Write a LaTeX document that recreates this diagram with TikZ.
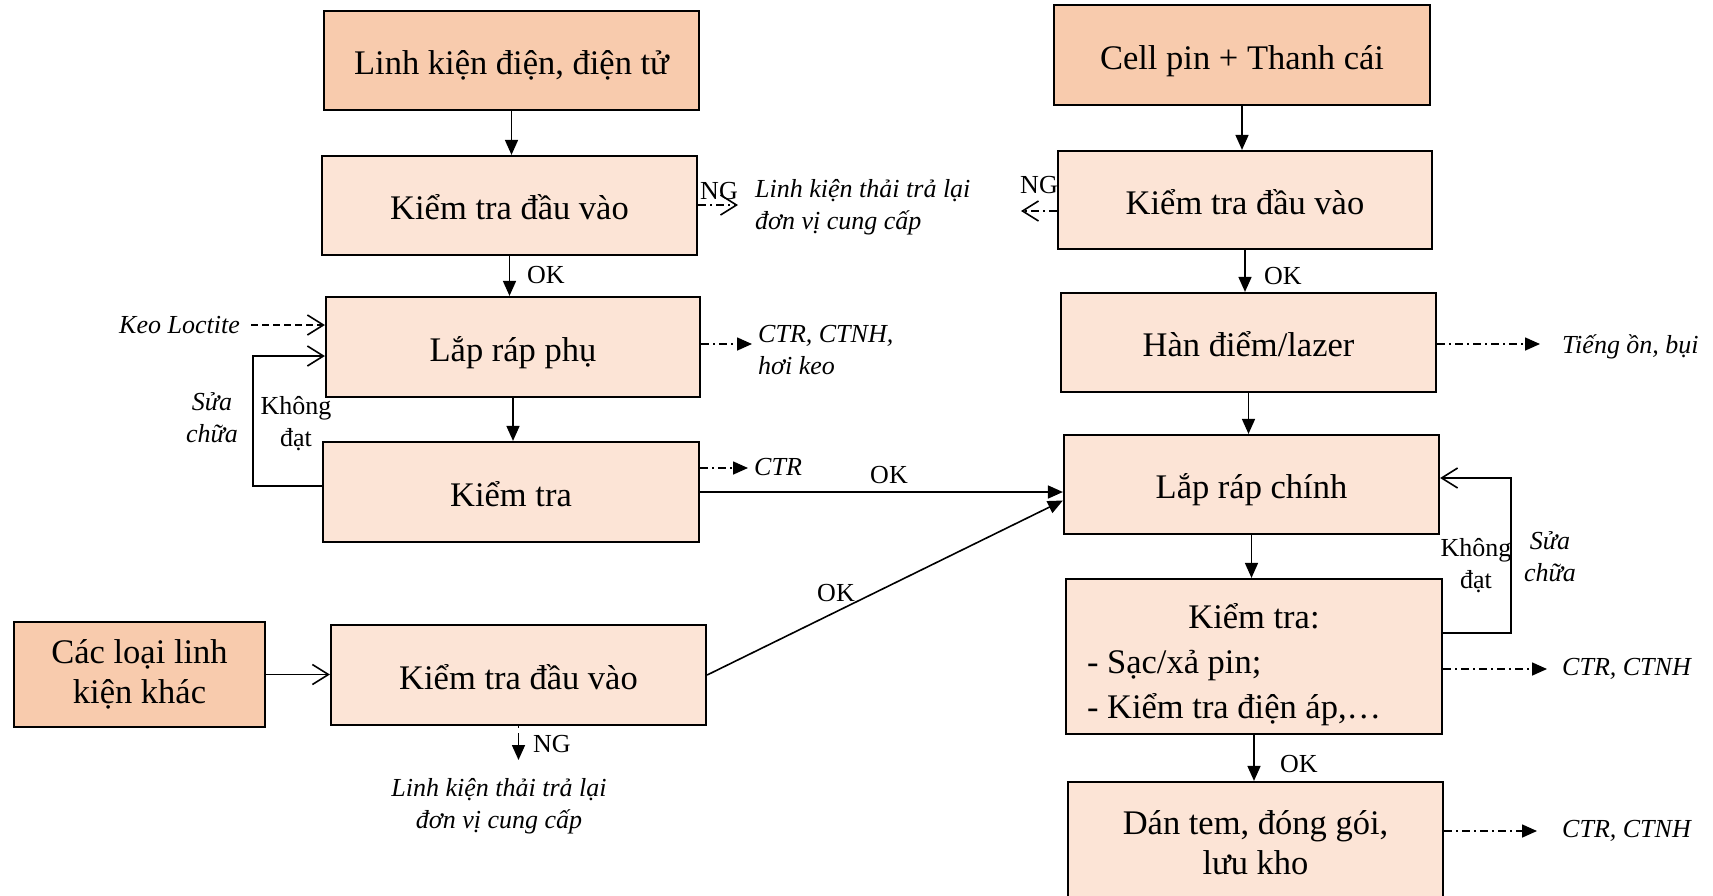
\documentclass[tikz,border=0pt]{standalone}
\usepackage{fontspec}
\setmainfont{Liberation Serif}
\usetikzlibrary{arrows.meta}
\definecolor{srcfill}{HTML}{F8CBAD}
\definecolor{boxfill}{HTML}{FCE4D6}
\tikzset{
 box/.style={draw=black, line width=2.2pt, fill=boxfill, inner sep=0pt, align=center, font=\fontsize{34.5}{40}\selectfont},
 srcbox/.style={box, fill=srcfill},
 oneline/.style={text height=28pt, text depth=0pt},
 lbl/.style={inner sep=0pt, font=\fontsize{26}{32}\selectfont},
 ilbl/.style={inner sep=0pt, font=\fontsize{26}{32}\selectfont\itshape},
 conn/.style={line width=1.6pt},
 farrow/.style={conn, -{Triangle[length=15pt,width=13pt]}},
 barrow/.style={conn, -{Straight Barb[length=16pt,width=20pt,line width=1.6pt]}},
 ddot/.style={dash pattern=on 8pt off 4pt on 2pt off 4pt},
}
\begin{document}
\begin{tikzpicture}[x=1pt,y=-1pt]
\clip (0,0) rectangle (1713,895);
\fill[white] (0,0) rectangle (1713,895);
% left column
\node[srcbox, oneline, minimum width=375pt, minimum height=99pt] (src1) at (511.5,60.5) {Linh kiện điện, điện tử};
\node[box, oneline, minimum width=375pt, minimum height=99pt] (kt1) at (509.5,205.5) {Kiểm tra đầu vào};
\node[box, oneline, minimum width=374pt, minimum height=100pt] (lrp) at (513,347) {Lắp ráp phụ};
\node[box, oneline, minimum width=376pt, minimum height=100pt] (kt2) at (511,492) {Kiểm tra};
\node[srcbox, minimum width=251pt, minimum height=105pt] (src3) at (139.5,674.5) {Các loại linh\\kiện khác};
\node[box, oneline, minimum width=375pt, minimum height=100pt] (kt3) at (518.5,675) {Kiểm tra đầu vào};
% right column
\node[srcbox, oneline, minimum width=376pt, minimum height=100pt] (src2) at (1242,55) {Cell pin + Thanh cái};
\node[box, oneline, minimum width=374pt, minimum height=98pt] (kt4) at (1245,200) {Kiểm tra đầu vào};
\node[box, oneline, minimum width=375pt, minimum height=99pt] (han) at (1248.5,342.5) {Hàn điểm/lazer};
\node[box, oneline, minimum width=375pt, minimum height=99pt] (lrc) at (1251.5,484.5) {Lắp ráp chính};
\node[box, text height=30pt, text depth=87pt, minimum width=376pt, minimum height=155pt] (kt5) at (1254,656.5) {\parbox[t]{334pt}{\baselineskip=45pt\centering Kiểm tra:\par\raggedright - Sạc/xả pin;\par - Kiểm tra điện áp,…\par}};
\node[box, minimum width=375pt, minimum height=121pt] (dan) at (1255.5,842.5) {Dán tem, đóng gói,\\lưu kho};

% left connectors
\draw[farrow] (src1.south) -- (src1.south |- kt1.north);
\draw[farrow] (kt1.south) -- (kt1.south |- lrp.north);
\node[lbl, anchor=west] (ok1) at (527,275) {OK};
\draw[farrow] (lrp.south) -- (lrp.south |- kt2.north);

\coordinate (e1) at (738,205);
\draw[ddot, barrow] (kt1.east |- e1) -- (e1);
\node[lbl] (ng1) at (719,191) {NG};
\node[ilbl, anchor=west, align=left] (w1) at (755,207) {Linh kiện thải trả lại\\đơn vị cung cấp};

\node[ilbl, anchor=east] (keo) at (240,325) {Keo Loctite};
\draw[barrow, dash pattern=on 7pt off 4pt] ([xshift=11pt]keo.east) -- (keo.east -| lrp.west);

\coordinate (e2) at (752,344);
\draw[ddot, farrow] (lrp.east |- e2) -- (e2);
\node[ilbl, anchor=west, align=left] (w2) at (758,350) {CTR, CTNH,\\hơi keo};

\coordinate (lp) at (253,356);
\coordinate (lp2) at (253,486);
\draw[barrow] (kt2.west |- lp2) -- (lp2) -- (lp) -- (lp -| lrp.west);
\node[ilbl, align=center] (sc1) at (212,418) {Sửa\\chữa};
\node[lbl, align=center] (kd1) at (296,424) {Không\\đạt};

\coordinate (e3) at (748,468);
\draw[ddot, farrow] (kt2.east |- e3) -- (e3);
\node[ilbl, anchor=west] (w3) at (754,467) {CTR};

\draw[farrow] (kt2.east) -- (kt2.east -| lrc.west);
\node[lbl] (ok3) at (889,475) {OK};
\draw[farrow] (kt3.east) -- ([yshift=-16pt]lrc.west);
\node[lbl] (ok4) at (836,593) {OK};

\draw[barrow] (src3.east) -- (src3.east -| kt3.west);

\coordinate (e4) at (519,760);
\draw[dash pattern=on 2pt off 5pt on 30pt off 0pt, farrow] (kt3.south) -- (kt3.south |- e4);
\node[lbl, anchor=west] (ng2) at (533,744) {NG};
\node[ilbl, align=center] (w4) at (499,806) {Linh kiện thải trả lại\\đơn vị cung cấp};

% right connectors
\draw[farrow] (src2.south) -- (src2.south |- kt4.north);
\draw[farrow] (kt4.south) -- (kt4.south |- han.north);
\node[lbl, anchor=west] (ok5) at (1264,276) {OK};
\coordinate (e5) at (1021,211);
\draw[ddot, barrow] (kt4.west |- e5) -- (e5);
\node[lbl] (ng3) at (1039,185) {NG};

\coordinate (e6) at (1540,344);
\draw[ddot, farrow] (han.east |- e6) -- (e6);
\node[ilbl, anchor=west] (w5) at (1562,347) {Tiếng ồn, bụi};

\draw[farrow] (han.south) -- (han.south |- lrc.north);
\draw[farrow] (lrc.south) -- (lrc.south |- kt5.north);

\coordinate (rp1) at (1511,633);
\coordinate (rp2) at (1511,478);
\draw[barrow] (kt5.east |- rp1) -- (rp1) -- (rp2) -- (rp2 -| lrc.east);
\node[lbl, align=center] (kd2) at (1476,566) {Không\\đạt};
\node[ilbl, align=center] (sc2) at (1550,557) {Sửa\\chữa};

\coordinate (e7) at (1547,669);
\draw[ddot, farrow] (kt5.east |- e7) -- (e7);
\node[ilbl, anchor=west] (w6) at (1562,669) {CTR, CTNH};

\draw[farrow] (kt5.south) -- (kt5.south |- dan.north);
\node[lbl, anchor=west] (ok6) at (1280,764) {OK};

\coordinate (e8) at (1537,831);
\draw[ddot, farrow] (dan.east |- e8) -- (e8);
\node[ilbl, anchor=west] (w7) at (1562,831) {CTR, CTNH};
\end{tikzpicture}
\end{document}
